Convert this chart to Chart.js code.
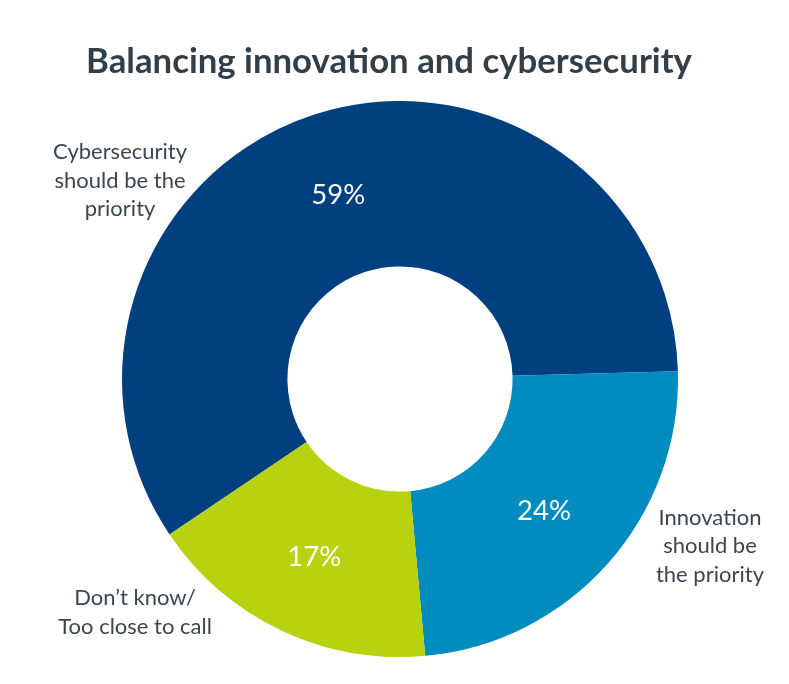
<!DOCTYPE html>
<html>
<head>
<meta charset="utf-8">
<script src="https://cdn.jsdelivr.net/npm/chart.js@4"></script>
<style>
  html, body { margin: 0; padding: 0; background: #fff; }
  #wrap { width: 789px; height: 684px; }
</style>
</head>
<body>
<div id="wrap"><canvas id="chart" width="789" height="684"></canvas></div>
<script>
// ------------------------------------------------------------------
// Data
// ------------------------------------------------------------------
const chartTitle = 'Balancing innovation and cybersecurity';
const categories = [
  ['Cybersecurity', 'should be the', 'priority'],
  ['Innovation', 'should be', 'the priority'],
  ['Don\u2019t know/', 'Too close to call'],
];
const shares = [59, 24, 17];
const sliceColors = ['#00407e', '#008cbe', '#b8d20f'];

// where each category name sits, in units of the outer radius from the centre
const nameAnchors = [
  { dx: -1.007, dy: -0.714 },
  { dx:  1.115, dy:  0.601 },
  { dx: -0.953, dy:  0.840 },
];

const FONT = 'Lato, "Open Sans", sans-serif';

// pick a font size so that `text` is `width` px wide (Calibri is not installed)
function fitSize(ctx, text, width, weight) {
  ctx.font = `${weight} 100px ${FONT}`;
  return 100 * width / ctx.measureText(text).width;
}

// title, % inside each slice and the category names outside
const sliceLabels = {
  id: 'sliceLabels',
  afterDatasetsDraw(chart) {
    const { ctx } = chart;
    const meta = chart.getDatasetMeta(0);
    ctx.save();

    const tSize = fitSize(ctx, chartTitle, 606, 'bold');
    ctx.font = `bold ${tSize}px ${FONT}`;
    ctx.fillStyle = '#333f48';
    ctx.textAlign = 'center';
    ctx.textBaseline = 'alphabetic';
    ctx.fillText(chartTitle, 389, 73);

    const pSize = fitSize(ctx, '59%', 54, 'normal');
    const nSize = fitSize(ctx, 'Cybersecurity', 134, 'normal');
    ctx.textBaseline = 'middle';
    meta.data.forEach((arc, i) => {
      const p = arc.tooltipPosition();
      ctx.fillStyle = '#ffffff';
      ctx.font = `${pSize}px ${FONT}`;
      ctx.fillText(shares[i] + '%', p.x - 2, p.y + 2);

      const r = arc.outerRadius;
      const cx = arc.x + nameAnchors[i].dx * r;
      const cy = arc.y + nameAnchors[i].dy * r;
      const lines = categories[i];
      const lh = 28.5;
      ctx.fillStyle = '#3b4651';
      ctx.font = `${nSize}px ${FONT}`;
      lines.forEach((ln, k) => {
        ctx.fillText(ln, cx, cy + (k - (lines.length - 1) / 2) * lh);
      });
    });
    ctx.restore();
  },
};

new Chart(document.getElementById('chart'), {
  type: 'doughnut',
  data: {
    labels: categories.map(c => c.join(' ')),
    datasets: [{
      data: shares,
      backgroundColor: sliceColors,
      borderWidth: 0,
      hoverOffset: 0,
      offset: 0,
    }],
  },
  options: {
    responsive: false,
    animation: false,
    cutout: '40.5%',
    rotation: 236,
    layout: { padding: { left: 11, right: 0, top: 101, bottom: 27 } },
    plugins: {
      legend: { display: false },
      tooltip: { enabled: false },
      title: { display: false },
    },
  },
  plugins: [sliceLabels],
});
</script>
</body>
</html>
